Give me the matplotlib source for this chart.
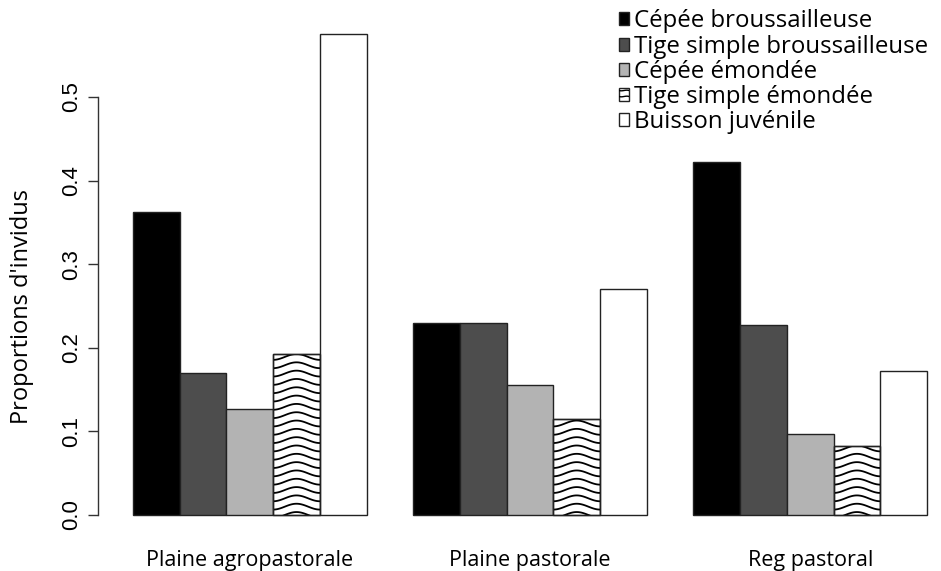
import numpy as np
import matplotlib
matplotlib.use("Agg")
import matplotlib.pyplot as plt
from matplotlib.patches import Rectangle

groups = ["Plaine agropastorale", "Plaine pastorale", "Reg pastoral"]
series = ["Cépée broussailleuse", "Tige simple broussailleuse", "Cépée émondée",
          "Tige simple émondée", "Buisson juvénile"]
cepee_brous = [0.362, 0.230, 0.422]
tige_brous = [0.170, 0.230, 0.227]
cepee_emon = [0.127, 0.155, 0.097]
tige_emon = [0.192, 0.115, 0.083]
buisson = [0.575, 0.270, 0.172]
values = [cepee_brous, tige_brous, cepee_emon, tige_emon, buisson]
yticks = [0.0, 0.1, 0.2, 0.3, 0.4, 0.5]
ytick_labels = ["0.0", "0.1", "0.2", "0.3", "0.4", "0.5"]

fills = ["#000000", "#4d4d4d", "#b3b3b3", "#ffffff", "#ffffff"]
wavy = [False, False, False, True, False]

W, H = 941, 571
fig = plt.figure(figsize=(W / 100, H / 100), dpi=100)

# axes placement in pixels
x_left_px, x_right_px = 98, 941
y_bot_px, y_top_px = 534.2, 13.4
ax = fig.add_axes([x_left_px / W, 1 - y_bot_px / H,
                   (x_right_px - x_left_px) / W, (y_bot_px - y_top_px) / H])
ax.set_xlim(0.25, 18.3)
ax.set_ylim(-0.023, 0.6)

edge = "#222222"
for g in range(len(groups)):
    for i in range(len(series)):
        left = 1 + g * 6 + i
        h = values[i][g]
        bar = ax.bar(left, h, width=1, align="edge", color=fills[i],
                     edgecolor=edge, linewidth=1.0, zorder=2)[0]
        if wavy[i]:
            xs = np.linspace(left, left + 1, 60)
            spacing = 0.00995
            amp = 0.0035
            y0 = 0.0
            while y0 < h + 2 * spacing:
                ys = y0 + amp * np.cos(2 * np.pi * (xs - left - 0.5))
                ln, = ax.plot(xs, ys, color="black", lw=1.3, zorder=3)
                ln.set_clip_path(bar)
                y0 += spacing
            ax.bar(left, h, width=1, align="edge", facecolor="none",
                   edgecolor=edge, linewidth=1.0, zorder=4)

for s in ["top", "right", "bottom"]:
    ax.spines[s].set_visible(False)
ax.spines["left"].set_bounds(0, 0.5)
ax.spines["left"].set_color("#333333")
ax.spines["left"].set_linewidth(1.0)
ax.set_xticks([])
ax.set_yticks(yticks)
ax.set_yticklabels(ytick_labels, rotation=90, va="center",
                   fontfamily="Liberation Sans", fontsize=16)
ax.tick_params(axis="y", length=7.5, width=1.0, color="#333333", pad=4)

# group labels
for g, name in enumerate(groups):
    ax.text(1 + g * 6 + 2.5, -0.054, name, ha="center", va="center",
            fontfamily="Open Sans", fontsize=15.5, clip_on=False)

fig.text(22 / W, 1 - 306 / H, "Proportions d'invidus", rotation=90,
         ha="center", va="center", fontfamily="Open Sans", fontsize=17)

# legend
ys_leg = [18, 44, 69, 94, 119]
for i, name in enumerate(series):
    yc = ys_leg[i]
    sx, sw, sh = 619, 10, 13
    r = Rectangle((sx / W, 1 - (yc + sh / 2) / H), sw / W, sh / H,
                  transform=fig.transFigure, facecolor=fills[i],
                  edgecolor=edge, linewidth=1.0, zorder=5)
    fig.patches.append(r)
    if wavy[i]:
        xx = np.linspace(sx, sx + sw, 30)
        for off in (-3, 3):
            yy = yc + off + 1.5 * np.cos(np.pi * (xx - sx) / sw) + (xx - sx) * 0.3 - 2
            ln = plt.Line2D(xx / W, 1 - yy / H, transform=fig.transFigure,
                            color="black", lw=1.0, zorder=6)
            ln.set_clip_path(r)
            fig.lines.append(ln)
    fig.text(634 / W, 1 - yc / H, name, ha="left", va="center_baseline",
             fontfamily="Open Sans", fontsize=17.3)

fig.savefig("out.png", dpi=100)
